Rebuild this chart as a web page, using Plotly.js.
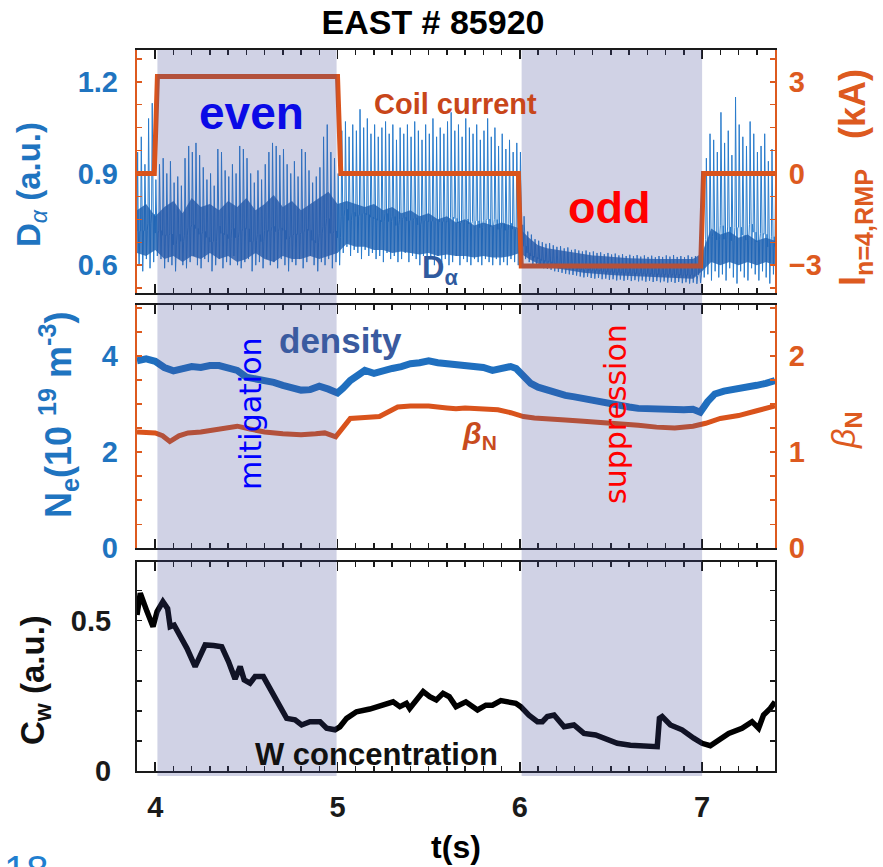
<!DOCTYPE html>
<html><head><meta charset="utf-8">
<script src="https://cdn.plot.ly/plotly-3.0.1.min.js"></script>
<style>html,body{margin:0;padding:0;background:#fff;}#chart{width:883px;height:867px;}</style>
</head><body><div id="chart"></div>
<script>
// ---------- DATA ----------
// D-alpha signal, min/max per 20 ms bin, starting at 3.90 s
const daStart = 3.90, daStep = 0.02;
const daHi = [
 0.97,1.02,0.93,1.08,1.13,0.88,0.93,0.95,0.90,0.94,
 0.87,0.89,0.86,0.95,0.99,0.97,1.00,0.96,0.92,0.88,
 0.90,0.86,0.98,0.97,0.91,0.89,0.93,0.90,0.99,0.98,
 0.95,0.90,0.87,0.91,0.88,0.93,0.97,1.00,0.99,0.96,
 0.98,0.93,0.90,0.94,0.89,0.98,0.97,0.91,0.87,0.89,
 0.92,1.02,1.06,0.97,0.95,0.90,1.04,1.07,1.02,1.06,
 1.04,1.11,1.05,1.08,1.03,1.06,1.02,1.05,1.07,1.03,
 1.06,1.01,1.05,1.03,1.06,1.02,1.07,1.04,1.01,1.06,
 1.03,1.08,1.02,1.05,1.03,1.07,1.10,1.04,1.06,1.02,
 1.08,1.05,1.03,1.06,1.01,1.04,1.08,1.02,1.05,0.99,
 1.03,0.98,1.01,0.97,1.00,0.97,0.76,0.71,0.70,0.685,
 0.68,0.675,0.67,0.672,0.665,0.66,0.662,0.655,0.658,0.65,
 0.652,0.648,0.645,0.648,0.642,0.645,0.64,0.642,0.636,0.64,
 0.635,0.638,0.632,0.636,0.63,0.634,0.63,0.633,0.628,0.632,
 0.627,0.631,0.626,0.63,0.627,0.632,0.628,0.633,0.627,0.63,
 0.626,0.632,0.627,0.63,0.628,0.70,0.95,1.03,1.01,0.97,
 1.10,1.00,1.04,0.96,1.15,1.06,1.02,0.99,1.07,1.03,
 0.97,0.99,1.03,0.94,0.98,0.92
];
const daLo = [
 0.60,0.58,0.62,0.59,0.61,0.63,0.62,0.59,0.61,0.60,
 0.58,0.62,0.60,0.59,0.61,0.63,0.60,0.59,0.62,0.61,
 0.58,0.60,0.62,0.59,0.61,0.60,0.63,0.60,0.59,0.61,
 0.62,0.58,0.60,0.61,0.59,0.62,0.60,0.61,0.59,0.62,
 0.60,0.58,0.61,0.60,0.62,0.59,0.61,0.63,0.60,0.58,
 0.61,0.60,0.62,0.59,0.61,0.60,0.64,0.66,0.63,0.65,
 0.64,0.62,0.65,0.63,0.64,0.62,0.63,0.61,0.64,0.62,
 0.63,0.61,0.62,0.64,0.61,0.63,0.62,0.60,0.63,0.61,
 0.62,0.60,0.63,0.61,0.62,0.60,0.61,0.63,0.60,0.62,
 0.61,0.60,0.62,0.61,0.60,0.62,0.61,0.60,0.62,0.60,
 0.61,0.60,0.62,0.61,0.60,0.63,0.62,0.61,0.60,0.60,
 0.595,0.59,0.588,0.585,0.58,0.578,0.575,0.572,0.57,0.568,
 0.566,0.563,0.56,0.562,0.558,0.556,0.558,0.554,0.556,0.552,
 0.554,0.55,0.553,0.549,0.552,0.548,0.551,0.547,0.55,0.546,
 0.549,0.545,0.548,0.544,0.547,0.543,0.546,0.542,0.545,0.541,
 0.544,0.54,0.543,0.539,0.542,0.56,0.57,0.55,0.58,0.56,
 0.57,0.55,0.59,0.56,0.54,0.58,0.56,0.55,0.59,0.57,
 0.55,0.58,0.56,0.54,0.57,0.55
];
// dense core of the D-alpha trace, every 50 ms from 3.90 s
const coreStart = 3.90, coreStep = 0.05;
const coreHi = [
 0.78,0.80,0.76,0.79,0.81,0.77,0.82,0.79,0.80,0.78,
 0.81,0.79,0.82,0.78,0.80,0.83,0.79,0.81,0.78,0.80,
 0.82,0.84,0.80,0.81,0.80,0.79,0.80,0.78,0.79,0.77,
 0.78,0.76,0.77,0.75,0.76,0.74,0.75,0.73,0.74,0.73,
 0.74,0.73,0.72,0.69,0.665,0.655,0.65,0.645,0.64,0.635,
 0.632,0.63,0.627,0.625,0.623,0.622,0.62,0.62,0.62,0.62,
 0.62,0.62,0.64,0.72,0.70,0.71,0.69,0.70,0.68,0.69,
 0.68
];
const coreLo = [
 0.64,0.63,0.65,0.62,0.63,0.61,0.63,0.62,0.64,0.62,
 0.63,0.61,0.62,0.64,0.62,0.61,0.63,0.62,0.62,0.63,
 0.62,0.63,0.64,0.67,0.66,0.66,0.65,0.65,0.64,0.645,
 0.64,0.635,0.64,0.63,0.635,0.63,0.63,0.625,0.63,0.625,
 0.625,0.63,0.64,0.62,0.605,0.595,0.59,0.585,0.58,0.575,
 0.572,0.57,0.568,0.566,0.565,0.563,0.562,0.56,0.56,0.558,
 0.557,0.556,0.58,0.61,0.60,0.61,0.60,0.61,0.60,0.61,
 0.60
];
// RMP coil current (kA)
const coilT = [3.90,3.995,4.012,5.0,5.018,5.992,6.008,6.992,7.008,7.40];
const coilV = [0,0,3.17,3.17,0,0,-3.03,-3.03,0,0];
// line-averaged density (1e19 m^-3)
const neT = [3.90,3.95,4.00,4.05,4.10,4.15,4.20,4.25,4.30,4.35,4.40,4.45,4.50,4.55,4.60,4.65,4.70,4.75,4.80,4.85,4.90,4.95,5.00,
 5.03,5.07,5.12,5.15,5.20,5.25,5.30,5.35,5.40,5.45,5.50,5.55,5.60,5.65,5.70,5.75,5.80,5.85,5.90,5.95,5.98,6.02,6.06,
 6.10,6.15,6.20,6.25,6.30,6.35,6.40,6.45,6.50,6.55,6.60,6.65,6.70,6.75,6.80,6.85,6.90,6.95,6.99,7.03,7.07,7.12,7.18,7.25,7.30,7.35,7.40];
const neV = [3.90,3.94,3.89,3.76,3.69,3.72,3.78,3.76,3.80,3.80,3.76,3.70,3.56,3.53,3.49,3.45,3.39,3.34,3.29,3.30,3.37,3.31,3.23,
 3.33,3.49,3.62,3.70,3.64,3.70,3.74,3.78,3.84,3.86,3.90,3.86,3.84,3.82,3.80,3.76,3.76,3.70,3.74,3.78,3.74,3.56,3.43,
 3.35,3.29,3.23,3.18,3.15,3.11,3.08,3.04,3.01,2.97,2.94,2.91,2.90,2.89,2.89,2.88,2.88,2.89,2.83,3.05,3.21,3.27,3.30,3.35,3.39,3.43,3.49];
// normalized beta
const bnT = [3.90,4.00,4.04,4.08,4.13,4.18,4.25,4.32,4.40,4.45,4.52,4.60,4.70,4.80,4.88,4.93,4.99,5.03,5.07,5.15,
 5.23,5.28,5.33,5.40,5.50,5.60,5.65,5.70,5.80,5.88,5.95,6.02,6.08,6.15,6.25,6.35,6.45,6.55,6.65,6.75,6.85,6.95,7.02,7.10,7.20,7.30,7.40];
const bnV = [1.21,1.20,1.17,1.11,1.17,1.20,1.21,1.23,1.26,1.27,1.24,1.21,1.19,1.18,1.19,1.20,1.16,1.26,1.35,1.36,
 1.37,1.42,1.47,1.48,1.48,1.46,1.45,1.46,1.455,1.44,1.41,1.37,1.355,1.35,1.335,1.32,1.31,1.30,1.28,1.26,1.25,1.27,1.30,1.35,1.38,1.43,1.48];
// tungsten concentration (a.u.)
const cwT = [3.90,3.918,3.955,3.988,4.01,4.042,4.068,4.082,4.104,4.137,4.174,4.219,4.256,4.274,4.32,4.365,4.402,4.438,4.466,4.488,
 4.52,4.548,4.593,4.63,4.685,4.721,4.767,4.803,4.849,4.904,4.94,4.986,5.013,5.05,5.104,5.177,5.25,5.305,5.342,5.378,
 5.396,5.47,5.506,5.542,5.579,5.613,5.65,5.704,5.768,5.814,5.85,5.896,5.978,6.005,6.05,6.097,6.124,6.151,6.188,6.243,
 6.297,6.352,6.416,6.47,6.535,6.607,6.68,6.754,6.766,6.781,6.826,6.89,6.954,7.0,7.045,7.091,7.146,7.219,7.274,7.31,
 7.337,7.374,7.40];
const cwV = [0.519,0.591,0.53,0.48,0.53,0.563,0.54,0.48,0.485,0.452,0.408,0.347,0.397,0.419,0.417,0.413,0.364,0.306,0.347,0.303,
 0.292,0.314,0.314,0.27,0.214,0.175,0.17,0.153,0.164,0.164,0.142,0.137,0.147,0.175,0.197,0.206,0.219,0.23,0.214,0.225,
 0.208,0.264,0.247,0.236,0.258,0.247,0.214,0.23,0.203,0.219,0.219,0.234,0.225,0.214,0.186,0.164,0.164,0.181,0.186,0.147,
 0.153,0.125,0.12,0.109,0.092,0.086,0.084,0.081,0.175,0.181,0.153,0.137,0.109,0.092,0.084,0.103,0.125,0.142,0.164,0.142,
 0.186,0.208,0.23];
// RMP phasing windows (s)
const windows = [[4.012,4.995],[6.01,7.0]];
const tTicks = [4,5,6,7];
const daTicks = [0.6,0.9,1.2];
const coilTicks = [-3,0,3];
const neTicks = [0,2,4];
const bnTicks = [0,1,2];
const cwTicks = [0,0.5];

// ---------- BUILD ----------
const FONT = 'Liberation Sans, Arial, Helvetica, sans-serif';
const BLUE = '#1f74c0', ORANGE = '#dd5a1f', BLK = '#1a1a1a';
const L = 137, R = 775, T = 50, B = 771;
const px = x => (x - L) / (R - L);
const py = y => (B - y) / (B - T);

// each bin drawn as a thin upward spike to its max and a thin downward spike to its min
const zx = [], zy = [];
daHi.forEach((h, i) => {
  const t = daStart + i * daStep, lo = daLo[i], c = lo + 0.3 * (h - lo);
  zx.push(t, t + 0.0035, t + 0.007, t + 0.0115, t + 0.016);
  zy.push(c, h, c, lo, c);
});
const coreT = coreHi.map((_, i) => coreStart + i * coreStep);
const polyX = coreT.concat(coreT.slice().reverse());
const polyY = coreHi.concat(coreLo.slice().reverse());

const traces = [
  {x: zx, y: zy, xaxis: 'x3', yaxis: 'y4', mode: 'lines', line: {color: 'rgb(42,124,204)', width: 1}, hoverinfo: 'skip'},
  {x: polyX, y: polyY, xaxis: 'x3', yaxis: 'y4', mode: 'lines', fill: 'toself', fillcolor: 'rgba(30,96,176,0.8)', line: {width: 0}, hoverinfo: 'skip'},
  {x: coilT, y: coilV, xaxis: 'x3', yaxis: 'y5', mode: 'lines', line: {color: '#d9531c', width: 5}},
  {x: neT, y: neV, xaxis: 'x2', yaxis: 'y2', mode: 'lines', line: {color: '#1f6fbf', width: 7}},
  {x: bnT, y: bnV, xaxis: 'x2', yaxis: 'y3', mode: 'lines', line: {color: '#d9531c', width: 5}},
  {x: cwT, y: cwV, xaxis: 'x', yaxis: 'y', mode: 'lines', line: {color: '#000', width: 5.5}}
];

const tickFont = c => ({family: FONT, size: 29, color: c, weight: 'bold'});
const xbase = {
  range: [3.9, 7.4], showgrid: false, zeroline: false, showline: true, linecolor: BLK, linewidth: 2,
  mirror: 'ticks', ticks: 'inside', ticklen: 9, tickwidth: 1.5, tickcolor: BLK, tickmode: 'array', tickvals: tTicks,
  minor: {ticks: 'inside', tick0: 0, dtick: 0.1, ticklen: 5, tickwidth: 1.5, tickcolor: BLK}
};
const ybaseNoLine = {showgrid: false, zeroline: false, showline: false, ticks: '', tickmode: 'array'};
const yRight = c => ({showgrid: false, zeroline: false, showline: true, linecolor: c, linewidth: 2, mirror: 'ticks',
  ticks: 'inside', ticklen: 5, tickwidth: 1.5, tickcolor: c, tickmode: 'array'});

const layout = {
  width: 883, height: 867, paper_bgcolor: '#fff', plot_bgcolor: '#fff', showlegend: false,
  margin: {l: L, r: 883 - R, t: T, b: 867 - B},
  title: {text: '<b>EAST # 85920</b>', font: {family: FONT, size: 34, color: '#000'}, x: 433 / 883, xanchor: 'center', y: 1 - 22 / 867, yanchor: 'middle'},
  xaxis: Object.assign({}, xbase, {anchor: 'y', tickfont: tickFont(BLK), ticklabelstandoff: 9,
    title: {text: '<b>t(s)</b>', font: {family: FONT, size: 32, color: '#000'}, standoff: 14}}),
  xaxis2: Object.assign({}, xbase, {anchor: 'y2', matches: 'x', showticklabels: false}),
  xaxis3: Object.assign({}, xbase, {anchor: 'y4', matches: 'x', showticklabels: false}),
  yaxis: Object.assign(yRight(BLK), {domain: [0, py(561.7)], range: [0, 0.696], anchor: 'x', tickvals: cwTicks, ticktext: ['0', '0.5'],
    tickfont: tickFont(BLK), ticklabelstandoff: 18, minor: {ticks: 'inside', tick0: 0, dtick: 0.1, ticklen: 5, tickwidth: 1.5, tickcolor: BLK}}),
  yaxis2: Object.assign({}, ybaseNoLine, {domain: [py(548.3), py(305)], range: [0, 5.06], anchor: 'x2', tickvals: neTicks,
    tickfont: tickFont(BLUE), ticklabelstandoff: 18}),
  yaxis3: Object.assign(yRight(ORANGE), {overlaying: 'y2', side: 'right', anchor: 'x2', range: [0, 2.53], tickvals: bnTicks,
    tickfont: tickFont(ORANGE), ticklabelstandoff: 6, minor: {ticks: 'inside', tick0: 0, dtick: 0.25, ticklen: 5, tickwidth: 1.5, tickcolor: ORANGE}}),
  yaxis4: Object.assign({}, ybaseNoLine, {domain: [py(293.3), 1], range: [0.508, 1.304], anchor: 'x3', tickvals: daTicks,
    ticktext: ['0.6', '0.9', '1.2'], tickfont: tickFont(BLUE), ticklabelstandoff: 18}),
  yaxis5: Object.assign(yRight(ORANGE), {overlaying: 'y4', side: 'right', anchor: 'x3', range: [-3.92, 4.04], tickvals: coilTicks,
    tickfont: tickFont(ORANGE), ticklabelstandoff: 6, minor: {ticks: 'inside', tick0: 0, dtick: 0.75, ticklen: 5, tickwidth: 1.5, tickcolor: ORANGE}}),
  shapes: windows.map(w => ({type: 'rect', xref: 'x', yref: 'paper', x0: w[0], x1: w[1], y0: py(776), y1: 1,
    fillcolor: 'rgba(67,75,151,0.25)', line: {width: 0}, layer: 'above'})),
  annotations: []
};

function ann(text, x, y, size, color, extra) {
  layout.annotations.push(Object.assign({text: text, xref: 'paper', yref: 'paper', x: px(x), y: py(y), showarrow: false,
    xanchor: 'center', yanchor: 'middle', font: {family: FONT, size: size, color: color}}, extra || {}));
}
ann('<b>even</b>', 251, 113, 46, '#0a0ae6');
ann('<b>odd</b>', 609, 207, 45, '#ff0000');
ann('<b>Coil current</b>', 455, 104, 29, '#c8461a');
ann('<b>D<sub>α</sub></b>', 440, 270, 31, '#2f5a9e');
ann('<b>density</b>', 340, 340, 35, '#3a5ba0');
ann('mitigation', 250, 414, 30, '#0000ff', {textangle: -90, font: {family: 'DejaVu Sans, sans-serif', size: 30, color: '#0000ff'}});
ann('suppression', 615, 414, 30, '#ff0000', {textangle: -90, font: {family: 'DejaVu Sans, sans-serif', size: 30, color: '#ff0000'}});
ann('<b><i>β</i><sub>N</sub></b>', 479, 435, 30, '#c84b1e');
ann('<b>W concentration</b>', 376, 754, 31, '#111');
// axis titles
ann('<b>D</b><sub><i>α</i></sub><b>\u00a0(a.u.)</b>', 31, 185, 33, BLUE, {textangle: -90});
ann('<b>N<sub>e</sub>(10\u00a0<sup>19</sup>\u00a0m<sup>-3</sup>)</b>', 58, 415, 36, BLUE, {textangle: -90});
ann('<b>C<sub>w</sub>\u00a0(a.u.)</b>', 35, 680, 33, '#111', {textangle: -90});
ann('<b>I<sub>n=4,RMP</sub>\u00a0\u00a0\u00a0(kA)</b>', 855, 178, 36, ORANGE, {textangle: -90});
ann('<i>β</i><b><sub>N</sub></b>', 845, 430, 34, ORANGE, {textangle: -90});
ann('18', 2, 846, 40, '#1f7fd0', {xanchor: 'left', yanchor: 'top'});

Plotly.newPlot('chart', traces, layout, {displayModeBar: false, staticPlot: true});
</script></body></html>
